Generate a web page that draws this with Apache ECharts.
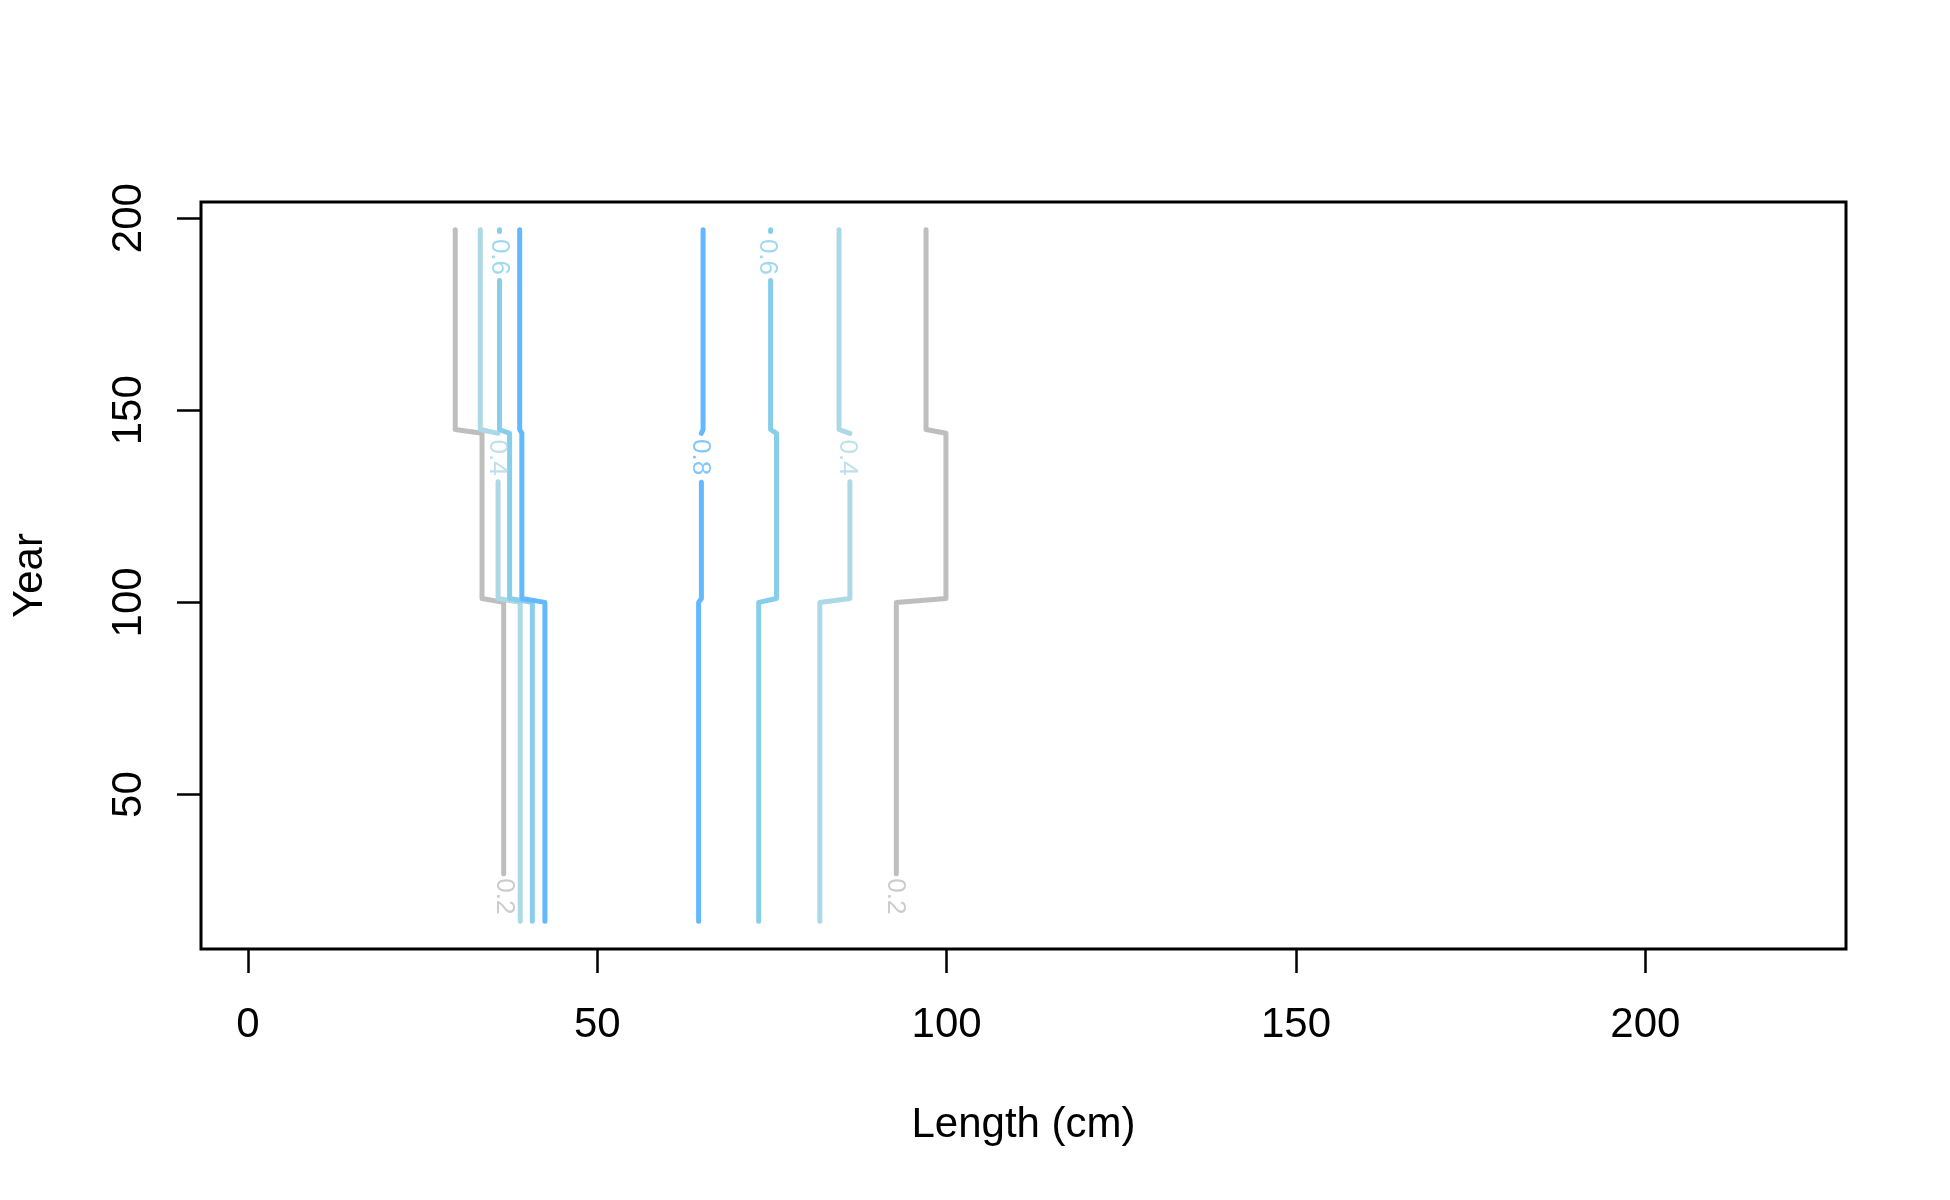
<!DOCTYPE html>
<html>
<head>
<meta charset="utf-8">
<script src="https://cdn.jsdelivr.net/npm/echarts@6/dist/echarts.min.js"></script>
<style>
html,body{margin:0;padding:0;background:#fff;}
#chart{width:1950px;height:1200px;}
</style>
</head>
<body>
<div id="chart"></div>
<script>
// ---- Data ----
var xTicks = [0, 50, 100, 150, 200];
var yTicks = [50, 100, 150, 200];
var levels = ['0.2', '0.4', '0.6', '0.8'];
var levelColors = ['#BEBEBE', '#ADD8E6', '#87CEEB', '#63B8FF'];

// contour paths (null = gap where label sits)
var c02L_x = [29.67, 29.67, 33.5, 33.5, 36.6, 36.6];
var c02L_y = [197, 145, 144, 101, 100, 29.4];
var c02R_x = [97.05, 97.05, 99.9, 99.9, 92.8, 92.8];
var c02R_y = [197, 145, 144, 101, 100, 29.4];

var c04L_x = [33.25, 33.25, 35.8, null, 35.8, 35.8, 38.97, 38.97];
var c04L_y = [197, 145, 144, null, 131.4, 101, 100, 17];
var c04R_x = [84.6, 84.6, 86.15, null, 86.15, 86.15, 81.85, 81.85];
var c04R_y = [197, 145, 144, null, 131.4, 101, 100, 17];

var c06L_x = [36.0, 36.0, null, 36.0, 36.0, 37.45, 37.45, 40.7, 40.7];
var c06L_y = [197, 196.5, null, 183.8, 145, 144, 101, 100, 17];
var c06R_x = [74.8, 74.8, null, 74.8, 74.8, 75.65, 75.65, 73.1, 73.1];
var c06R_y = [197, 196.5, null, 183.8, 145, 144, 101, 100, 17];

var c08L_x = [38.89, 38.89, 39.2, 39.2, 42.5, 42.5];
var c08L_y = [197, 145, 144, 101, 100, 17];
var c08R_x = [65.14, 65.14, 64.9, null, 64.9, 64.9, 64.5, 64.5];
var c08R_y = [197, 145, 144, null, 131.3, 101, 100, 17];

// contour labels: level index, x, y
var labLevel = [0, 0, 1, 1, 2, 2, 3];
var labX = [36.6, 92.7, 35.6, 85.7, 35.9, 74.3, 64.7];
var labY = [23.5, 23.5, 137.7, 137.7, 189.9, 189.9, 137.8];

// ---- Build ----
var paths = [
  [0, c02L_x, c02L_y], [0, c02R_x, c02R_y],
  [1, c04L_x, c04L_y], [1, c04R_x, c04R_y],
  [2, c06L_x, c06L_y], [2, c06R_x, c06R_y],
  [3, c08L_x, c08L_y], [3, c08R_x, c08R_y]
];
var series = [];
paths.forEach(function (p) {
  var lvl = p[0], xs = p[1], ys = p[2];
  var seg = [];
  function flush() {
    if (seg.length) {
      series.push({
        type: 'line', data: seg, showSymbol: false, symbol: 'none',
        silent: true, animation: false, z: 2 + lvl,
        lineStyle: { color: levelColors[lvl], width: 5, cap: 'round', join: 'round' }
      });
    }
    seg = [];
  }
  for (var i = 0; i < xs.length; i++) {
    if (xs[i] === null) { flush(); } else { seg.push([xs[i], ys[i]]); }
  }
  flush();
});
labLevel.forEach(function (lvl, i) {
  series.push({
    type: 'scatter', symbolSize: 0, silent: true, animation: false, z: 10,
    data: [[labX[i], labY[i]]],
    label: {
      show: true, position: 'inside', formatter: levels[lvl], rotate: -90,
      color: levelColors[lvl], fontSize: 26, fontFamily: 'Liberation Sans, Arial, sans-serif',
      align: 'center', verticalAlign: 'middle'
    }
  });
});

var font = 'Liberation Sans, Arial, sans-serif';
var chart = echarts.init(document.getElementById('chart'), null, { renderer: 'canvas' });
chart.setOption({
  backgroundColor: '#ffffff',
  animation: false,
  grid: {
    left: 201, top: 202, width: 1645, height: 747,
    show: true, borderColor: '#000', borderWidth: 3, backgroundColor: 'transparent',
    outerBoundsMode: 'none', containLabel: false
  },
  xAxis: {
    type: 'value', min: -6.72, max: 228.72,
    axisLine: { show: false, onZero: false },
    splitLine: { show: false },
    axisTick: { show: true, inside: false, length: 24, customValues: xTicks, lineStyle: { color: '#000', width: 2.5 } },
    axisLabel: { show: true, customValues: xTicks, fontSize: 42, color: '#000', margin: 55, fontFamily: font },
    name: 'Length (cm)', nameLocation: 'middle', nameGap: 155,
    nameTextStyle: { fontSize: 42, color: '#000', fontFamily: font }
  },
  yAxis: {
    type: 'value', min: 9.8, max: 204.2,
    axisLine: { show: false, onZero: false },
    splitLine: { show: false },
    axisTick: { show: true, inside: false, length: 24, customValues: yTicks, lineStyle: { color: '#000', width: 2.5 } },
    axisLabel: { show: true, customValues: yTicks, fontSize: 42, color: '#000', margin: 51, rotate: 90, fontFamily: font },
    name: 'Year', nameLocation: 'middle', nameGap: 150, nameRotate: 90,
    nameTextStyle: { fontSize: 42, color: '#000', fontFamily: font }
  },
  series: series
});
</script>
</body>
</html>
